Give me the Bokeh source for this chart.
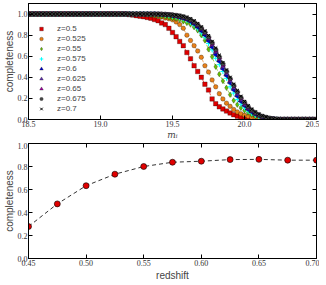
import math
from bokeh.plotting import figure
from bokeh.layouts import column
from bokeh.models import (Range1d, LinearAxis, FixedTicker, NumeralTickFormatter,
                          Legend, LegendItem)
from bokeh.embed import file_html
from bokeh.resources import INLINE

# ---------------- data: completeness vs magnitude ----------------
mag = [18.5, 18.525, 18.55, 18.575, 18.6, 18.625, 18.65, 18.675, 18.7, 18.725,
       18.75, 18.775, 18.8, 18.825, 18.85, 18.875, 18.9, 18.925, 18.95, 18.975,
       19.0, 19.025, 19.05, 19.075, 19.1, 19.125, 19.15, 19.175, 19.2, 19.225,
       19.25, 19.275, 19.3, 19.325, 19.35, 19.375, 19.4, 19.425, 19.45, 19.475,
       19.5, 19.525, 19.55, 19.575, 19.6, 19.625, 19.65, 19.675, 19.7, 19.725,
       19.75, 19.775, 19.8, 19.825, 19.85, 19.875, 19.9, 19.925, 19.95, 19.975,
       20.0, 20.025, 20.05, 20.075, 20.1, 20.125, 20.15, 20.175, 20.2, 20.225,
       20.25, 20.275, 20.3, 20.325, 20.35, 20.375, 20.4, 20.425, 20.45, 20.475, 20.5]

comp_z0500 = [1.0, 1.0, 1.0, 1.0, 1.0, 1.0, 1.0, 1.0, 1.0, 1.0,
              1.0, 1.0, 1.0, 1.0, 1.0, 1.0, 1.0, 1.0, 1.0, 1.0,
              1.0, 1.0, 1.0, 1.0, 1.0, 1.0, 1.0, 1.0, 0.995, 0.99,
              0.985, 0.98, 0.975, 0.968, 0.96, 0.948, 0.937, 0.915, 0.9, 0.865,
              0.825, 0.785, 0.74, 0.7, 0.635, 0.575, 0.51, 0.455, 0.4, 0.335,
              0.28, 0.195, 0.15, 0.12, 0.1, 0.08, 0.062, 0.045, 0.032, 0.022,
              0.015, 0.01, 0.007, 0.004, 0.002, 0.0, 0.0, 0.0, 0.0, 0.0,
              0.0, 0.0, 0.0, 0.0, 0.0, 0.0, 0.0, 0.0, 0.0, 0.0, 0.0]
comp_z0525 = [1.0, 1.0, 1.0, 1.0, 1.0, 1.0, 1.0, 1.0, 1.0, 1.0,
              1.0, 1.0, 1.0, 1.0, 1.0, 1.0, 1.0, 1.0, 1.0, 1.0,
              1.0, 1.0, 1.0, 1.0, 1.0, 1.0, 1.0, 1.0, 1.0, 1.0,
              1.0, 1.0, 0.997, 0.993, 0.99, 0.985, 0.98, 0.972, 0.962, 0.955,
              0.945, 0.925, 0.9, 0.865, 0.8, 0.75, 0.7, 0.65, 0.59, 0.51,
              0.45, 0.375, 0.31, 0.245, 0.195, 0.155, 0.125, 0.095, 0.072, 0.055,
              0.04, 0.03, 0.02, 0.013, 0.008, 0.005, 0.002, 0.0, 0.0, 0.0,
              0.0, 0.0, 0.0, 0.0, 0.0, 0.0, 0.0, 0.0, 0.0, 0.0, 0.0]
comp_z0550 = [1.0, 1.0, 1.0, 1.0, 1.0, 1.0, 1.0, 1.0, 1.0, 1.0,
              1.0, 1.0, 1.0, 1.0, 1.0, 1.0, 1.0, 1.0, 1.0, 1.0,
              1.0, 1.0, 1.0, 1.0, 1.0, 1.0, 1.0, 1.0, 1.0, 1.0,
              1.0, 1.0, 1.0, 1.0, 0.995, 0.99, 0.985, 0.98, 0.975, 0.968,
              0.96, 0.955, 0.945, 0.93, 0.915, 0.9, 0.875, 0.845, 0.8, 0.75,
              0.665, 0.595, 0.5, 0.43, 0.365, 0.3, 0.235, 0.18, 0.14, 0.11,
              0.085, 0.065, 0.045, 0.032, 0.022, 0.014, 0.008, 0.004, 0.002, 0.0,
              0.0, 0.0, 0.0, 0.0, 0.0, 0.0, 0.0, 0.0, 0.0, 0.0, 0.0]
comp_z0575 = [1.0, 1.0, 1.0, 1.0, 1.0, 1.0, 1.0, 1.0, 1.0, 1.0,
              1.0, 1.0, 1.0, 1.0, 1.0, 1.0, 1.0, 1.0, 1.0, 1.0,
              1.0, 1.0, 1.0, 1.0, 1.0, 1.0, 1.0, 1.0, 1.0, 1.0,
              1.0, 1.0, 1.0, 1.0, 1.0, 1.0, 0.997, 0.995, 0.99, 0.985,
              0.98, 0.975, 0.965, 0.955, 0.94, 0.92, 0.895, 0.86, 0.82, 0.78,
              0.72, 0.66, 0.58, 0.52, 0.455, 0.39, 0.31, 0.25, 0.19, 0.145,
              0.11, 0.08, 0.058, 0.04, 0.028, 0.018, 0.011, 0.006, 0.003, 0.001,
              0.0, 0.0, 0.0, 0.0, 0.0, 0.0, 0.0, 0.0, 0.0, 0.0, 0.0]
comp_z0600 = [1.0, 1.0, 1.0, 1.0, 1.0, 1.0, 1.0, 1.0, 1.0, 1.0,
              1.0, 1.0, 1.0, 1.0, 1.0, 1.0, 1.0, 1.0, 1.0, 1.0,
              1.0, 1.0, 1.0, 1.0, 1.0, 1.0, 1.0, 1.0, 1.0, 1.0,
              1.0, 1.0, 1.0, 1.0, 1.0, 1.0, 0.998, 0.996, 0.993, 0.99,
              0.985, 0.978, 0.97, 0.96, 0.948, 0.93, 0.905, 0.875, 0.84, 0.8,
              0.745, 0.685, 0.615, 0.55, 0.48, 0.415, 0.345, 0.28, 0.22, 0.17,
              0.13, 0.095, 0.07, 0.05, 0.035, 0.023, 0.014, 0.008, 0.004, 0.002,
              0.0, 0.0, 0.0, 0.0, 0.0, 0.0, 0.0, 0.0, 0.0, 0.0, 0.0]
comp_z0625 = [1.0, 1.0, 1.0, 1.0, 1.0, 1.0, 1.0, 1.0, 1.0, 1.0,
              1.0, 1.0, 1.0, 1.0, 1.0, 1.0, 1.0, 1.0, 1.0, 1.0,
              1.0, 1.0, 1.0, 1.0, 1.0, 1.0, 1.0, 1.0, 1.0, 1.0,
              1.0, 1.0, 1.0, 1.0, 1.0, 1.0, 0.999, 0.997, 0.995, 0.992,
              0.988, 0.982, 0.975, 0.965, 0.953, 0.937, 0.915, 0.888, 0.855, 0.815,
              0.765, 0.705, 0.64, 0.57, 0.5, 0.435, 0.365, 0.3, 0.24, 0.185,
              0.14, 0.105, 0.078, 0.055, 0.038, 0.025, 0.016, 0.009, 0.005, 0.002,
              0.0, 0.0, 0.0, 0.0, 0.0, 0.0, 0.0, 0.0, 0.0, 0.0, 0.0]
comp_z0650 = [1.0, 1.0, 1.0, 1.0, 1.0, 1.0, 1.0, 1.0, 1.0, 1.0,
              1.0, 1.0, 1.0, 1.0, 1.0, 1.0, 1.0, 1.0, 1.0, 1.0,
              1.0, 1.0, 1.0, 1.0, 1.0, 1.0, 1.0, 1.0, 1.0, 1.0,
              1.0, 1.0, 1.0, 1.0, 1.0, 1.0, 0.999, 0.998, 0.996, 0.993,
              0.99, 0.985, 0.978, 0.97, 0.958, 0.943, 0.922, 0.895, 0.862, 0.822,
              0.775, 0.715, 0.65, 0.58, 0.515, 0.45, 0.38, 0.315, 0.255, 0.2,
              0.155, 0.115, 0.085, 0.06, 0.042, 0.028, 0.018, 0.011, 0.006, 0.003,
              0.0, 0.0, 0.0, 0.0, 0.0, 0.0, 0.0, 0.0, 0.0, 0.0, 0.0]
comp_z0675 = [1.0, 1.0, 1.0, 1.0, 1.0, 1.0, 1.0, 1.0, 1.0, 1.0,
              1.0, 1.0, 1.0, 1.0, 1.0, 1.0, 1.0, 1.0, 1.0, 1.0,
              1.0, 1.0, 1.0, 1.0, 1.0, 1.0, 1.0, 1.0, 1.0, 1.0,
              1.0, 1.0, 1.0, 1.0, 1.0, 1.0, 1.0, 0.999, 0.997, 0.995,
              0.992, 0.988, 0.982, 0.974, 0.963, 0.948, 0.928, 0.902, 0.87, 0.83,
              0.785, 0.73, 0.665, 0.595, 0.53, 0.46, 0.39, 0.325, 0.265, 0.21,
              0.165, 0.125, 0.092, 0.066, 0.047, 0.032, 0.021, 0.013, 0.007, 0.003,
              0.0, 0.0, 0.0, 0.0, 0.0, 0.0, 0.0, 0.0, 0.0, 0.0, 0.0]
comp_z0700 = [1.0, 1.0, 1.0, 1.0, 1.0, 1.0, 1.0, 1.0, 1.0, 1.0,
              1.0, 1.0, 1.0, 1.0, 1.0, 1.0, 1.0, 1.0, 1.0, 1.0,
              1.0, 1.0, 1.0, 1.0, 1.0, 1.0, 1.0, 1.0, 1.0, 1.0,
              1.0, 1.0, 1.0, 1.0, 1.0, 1.0, 1.0, 0.999, 0.998, 0.996,
              0.993, 0.99, 0.985, 0.978, 0.968, 0.955, 0.935, 0.91, 0.878, 0.84,
              0.795, 0.74, 0.678, 0.61, 0.54, 0.47, 0.4, 0.335, 0.275, 0.22,
              0.17, 0.13, 0.097, 0.07, 0.05, 0.035, 0.023, 0.014, 0.008, 0.004,
              0.001, 0.0, 0.0, 0.0, 0.0, 0.0, 0.0, 0.0, 0.0, 0.0, 0.0]

series_labels = ["z=0.5", "z=0.525", "z=0.55", "z=0.575", "z=0.6",
                 "z=0.625", "z=0.65", "z=0.675", "z=0.7"]
series_values = [comp_z0500, comp_z0525, comp_z0550, comp_z0575, comp_z0600,
                 comp_z0625, comp_z0650, comp_z0675, comp_z0700]

# ---------------- data: completeness vs redshift ----------------
redshift = [0.45, 0.475, 0.5, 0.525, 0.55, 0.575, 0.6, 0.625, 0.65, 0.675, 0.7]
completeness_z = [0.278, 0.475, 0.633, 0.733, 0.8, 0.837, 0.846, 0.86, 0.862, 0.855, 0.855]

mag_ticks = [18.5, 19.0, 19.5, 20.0, 20.5]
comp_ticks = [0.0, 0.2, 0.4, 0.6, 0.8, 1.0]
z_ticks = [0.45, 0.5, 0.55, 0.6, 0.65, 0.7]

# ---------------- styles ----------------
styles = [
    dict(marker="square", color="#e00000", size=4.5, angle=0.0),
    dict(marker="circle", color="#e8801a", size=4.5, angle=0.0),
    dict(marker="diamond", color="#66c000", size=5.5, angle=0.0),
    dict(marker="cross", color="#00ffff", size=5.0, angle=0.0),
    dict(marker="triangle", color="#0000d0", size=5.0, angle=math.pi / 2),
    dict(marker="triangle", color="#6030b0", size=5.0, angle=0.0),
    dict(marker="triangle", color="#a000a0", size=5.0, angle=-math.pi / 2),
    dict(marker="hex", color="#444444", size=5.0, angle=0.0),
    dict(marker="x", color="#000000", size=4.5, angle=0.0),
]

TICK_FONT = "Liberation Serif"
LABEL_FONT = "Liberation Sans"


def make_panel(xr, yr, xticks, yticks, xfmt, yfmt, frame_h, border_top, border_bottom):
    p = figure(frame_width=288, frame_height=frame_h, min_border_left=27, min_border_right=3,
               min_border_top=border_top, min_border_bottom=border_bottom,
               x_range=Range1d(*xr), y_range=Range1d(*yr),
               x_axis_location=None, y_axis_location=None,
               output_backend="svg", toolbar_location=None)
    bottom = LinearAxis(ticker=FixedTicker(ticks=xticks),
                        formatter=NumeralTickFormatter(format=xfmt))
    left = LinearAxis(ticker=FixedTicker(ticks=yticks),
                      formatter=NumeralTickFormatter(format=yfmt))
    right = LinearAxis(ticker=FixedTicker(ticks=yticks),
                       major_label_overrides={t: "" for t in yticks})
    top = LinearAxis(ticker=FixedTicker(ticks=xticks),
                     major_label_overrides={t: "" for t in xticks})
    p.add_layout(bottom, "below")
    p.add_layout(left, "left")
    p.add_layout(right, "right")
    p.add_layout(top, "above")
    for ax in (bottom, left, right, top):
        ax.major_tick_in = 4
        ax.major_tick_out = 0
        ax.minor_tick_line_color = None
        ax.axis_line_color = "black"
        ax.axis_line_width = 1
        ax.major_tick_line_color = "black"
        ax.major_label_text_font = TICK_FONT
        ax.major_label_text_color = "#333333"
    for ax in (bottom, left):
        ax.major_label_text_font_size = "8px"
        ax.major_label_standoff = 1
    for ax in (right, top):
        ax.major_label_text_font_size = "1px"
        ax.major_label_standoff = 0
    left.axis_label = "completeness"
    left.axis_label_text_font = LABEL_FONT
    left.axis_label_text_font_style = "normal"
    left.axis_label_text_font_size = "10px"
    left.axis_label_standoff = 0
    p.grid.visible = False
    p.outline_line_color = "black"
    p.outline_line_width = 1
    return p, bottom


# ---------------- top panel ----------------
p1, p1_bottom = make_panel((18.5, 20.5), (0.0, 1.1), mag_ticks, comp_ticks, "0.0", "0.0",
                           116, 3, 22)
p1_bottom.axis_label = "mᵢ"
p1_bottom.axis_label_text_font = "DejaVu Serif"
p1_bottom.axis_label_text_font_style = "italic"
p1_bottom.axis_label_text_font_size = "9px"
p1_bottom.axis_label_standoff = 0

items = []
for lab, vals, st in zip(series_labels, series_values, styles):
    p1.line(mag, vals, line_color=st["color"], line_dash="3 2", line_width=0.8, line_alpha=0.8)
for lab, vals, st in zip(series_labels, series_values, styles):
    if st["marker"] in ("cross", "x"):
        r = p1.scatter(mag, vals, marker=st["marker"], size=st["size"], angle=st["angle"],
                       line_color=st["color"], line_width=1.0)
    else:
        r = p1.scatter(mag, vals, marker=st["marker"], size=st["size"], angle=st["angle"],
                       fill_color=st["color"], line_color="black", line_width=0.4,
                       line_alpha=0.7)
    items.append(LegendItem(label=lab, renderers=[r]))

legend = Legend(items=items, location=(3, 4), padding=2, margin=0, spacing=1,
                glyph_height=9, glyph_width=16, label_height=9, label_standoff=8,
                label_text_font=LABEL_FONT, label_text_font_size="8px",
                border_line_alpha=0, background_fill_alpha=0)
p1.add_layout(legend)

# ---------------- bottom panel ----------------
p2, p2_bottom = make_panel((0.45, 0.70), (0.0, 1.0), z_ticks, comp_ticks, "0.00", "0.0",
                           115, 1, 24)
p2_bottom.axis_label = "redshift"
p2_bottom.axis_label_text_font = LABEL_FONT
p2_bottom.axis_label_text_font_style = "normal"
p2_bottom.axis_label_text_font_size = "10px"
p2_bottom.axis_label_standoff = 1

p2.line(redshift, completeness_z, line_color="#333333", line_dash="4 3", line_width=1)
p2.scatter(redshift, completeness_z, marker="circle", size=6, fill_color="#e00000",
           line_color="black", line_width=0.6)

layout = column(p1, p2, spacing=0, margin=(0, 0, 0, 0))

open("out.html", "w").write(file_html(layout, INLINE))
